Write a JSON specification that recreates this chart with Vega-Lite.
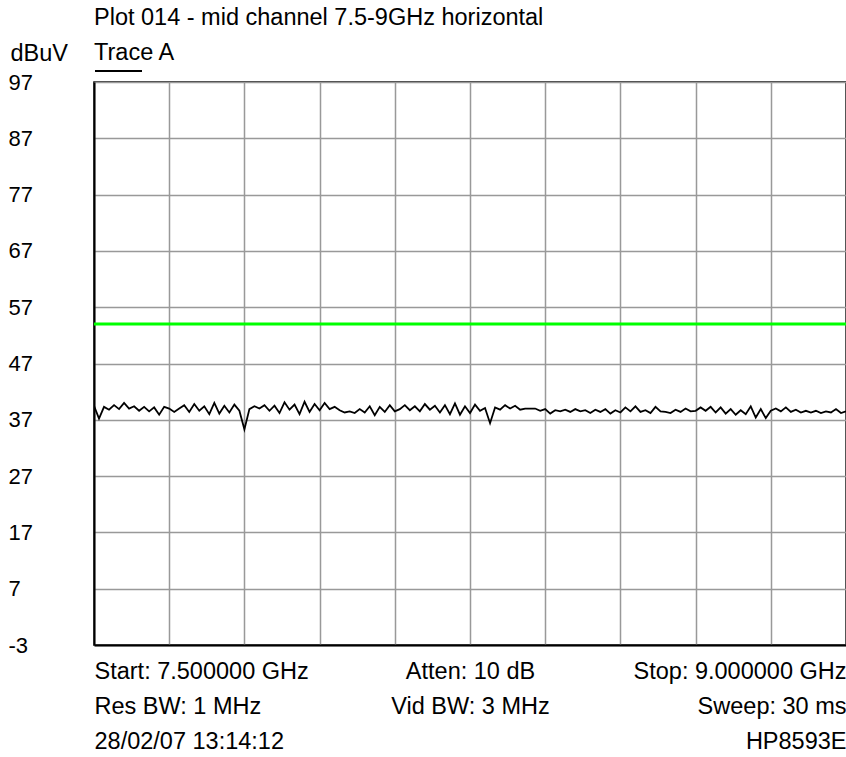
{
  "$schema": "https://vega.github.io/schema/vega-lite/v6.json",
  "width": 752,
  "height": 563,
  "autosize": {"type": "none"},
  "padding": {"left": 94, "top": 82, "right": 0, "bottom": 112},
  "background": "white",
  "config": {
    "font": "Liberation Sans",
    "view": {"stroke": "black", "strokeWidth": 1.5}
  },
  "title": {
    "text": "Plot 014 - mid channel 7.5-9GHz horizontal",
    "anchor": "start",
    "frame": "group",
    "fontSize": 23.5,
    "fontWeight": "normal",
    "color": "black",
    "offset": 12,
    "limit": 0
  },
  "layer": [
    {
      "data": {
        "values": [
          {"freq": 7.50, "level": 39.5, "trace": "Trace A"},
          {"freq": 7.51, "level": 37.2, "trace": "Trace A"},
          {"freq": 7.52, "level": 39.3, "trace": "Trace A"},
          {"freq": 7.53, "level": 38.8, "trace": "Trace A"},
          {"freq": 7.54, "level": 39.6, "trace": "Trace A"},
          {"freq": 7.55, "level": 38.9, "trace": "Trace A"},
          {"freq": 7.56, "level": 40.0, "trace": "Trace A"},
          {"freq": 7.57, "level": 39.0, "trace": "Trace A"},
          {"freq": 7.58, "level": 39.4, "trace": "Trace A"},
          {"freq": 7.59, "level": 38.6, "trace": "Trace A"},
          {"freq": 7.60, "level": 39.3, "trace": "Trace A"},
          {"freq": 7.61, "level": 38.5, "trace": "Trace A"},
          {"freq": 7.62, "level": 39.2, "trace": "Trace A"},
          {"freq": 7.63, "level": 37.9, "trace": "Trace A"},
          {"freq": 7.64, "level": 39.3, "trace": "Trace A"},
          {"freq": 7.65, "level": 39.0, "trace": "Trace A"},
          {"freq": 7.66, "level": 38.4, "trace": "Trace A"},
          {"freq": 7.67, "level": 39.0, "trace": "Trace A"},
          {"freq": 7.68, "level": 39.6, "trace": "Trace A"},
          {"freq": 7.69, "level": 38.4, "trace": "Trace A"},
          {"freq": 7.70, "level": 39.8, "trace": "Trace A"},
          {"freq": 7.71, "level": 38.6, "trace": "Trace A"},
          {"freq": 7.72, "level": 39.4, "trace": "Trace A"},
          {"freq": 7.73, "level": 38.0, "trace": "Trace A"},
          {"freq": 7.74, "level": 40.0, "trace": "Trace A"},
          {"freq": 7.75, "level": 38.1, "trace": "Trace A"},
          {"freq": 7.76, "level": 39.5, "trace": "Trace A"},
          {"freq": 7.77, "level": 38.3, "trace": "Trace A"},
          {"freq": 7.78, "level": 39.7, "trace": "Trace A"},
          {"freq": 7.79, "level": 38.6, "trace": "Trace A"},
          {"freq": 7.80, "level": 35.3, "trace": "Trace A"},
          {"freq": 7.81, "level": 38.9, "trace": "Trace A"},
          {"freq": 7.82, "level": 39.4, "trace": "Trace A"},
          {"freq": 7.83, "level": 39.0, "trace": "Trace A"},
          {"freq": 7.84, "level": 39.6, "trace": "Trace A"},
          {"freq": 7.85, "level": 38.6, "trace": "Trace A"},
          {"freq": 7.86, "level": 39.5, "trace": "Trace A"},
          {"freq": 7.87, "level": 38.2, "trace": "Trace A"},
          {"freq": 7.88, "level": 40.1, "trace": "Trace A"},
          {"freq": 7.89, "level": 38.8, "trace": "Trace A"},
          {"freq": 7.90, "level": 39.7, "trace": "Trace A"},
          {"freq": 7.91, "level": 38.0, "trace": "Trace A"},
          {"freq": 7.92, "level": 40.2, "trace": "Trace A"},
          {"freq": 7.93, "level": 38.4, "trace": "Trace A"},
          {"freq": 7.94, "level": 39.8, "trace": "Trace A"},
          {"freq": 7.95, "level": 38.7, "trace": "Trace A"},
          {"freq": 7.96, "level": 40.0, "trace": "Trace A"},
          {"freq": 7.97, "level": 38.9, "trace": "Trace A"},
          {"freq": 7.98, "level": 39.3, "trace": "Trace A"},
          {"freq": 7.99, "level": 38.7, "trace": "Trace A"},
          {"freq": 8.00, "level": 38.3, "trace": "Trace A"},
          {"freq": 8.01, "level": 38.5, "trace": "Trace A"},
          {"freq": 8.02, "level": 38.2, "trace": "Trace A"},
          {"freq": 8.03, "level": 38.9, "trace": "Trace A"},
          {"freq": 8.04, "level": 38.3, "trace": "Trace A"},
          {"freq": 8.05, "level": 39.4, "trace": "Trace A"},
          {"freq": 8.06, "level": 37.8, "trace": "Trace A"},
          {"freq": 8.07, "level": 39.3, "trace": "Trace A"},
          {"freq": 8.08, "level": 38.4, "trace": "Trace A"},
          {"freq": 8.09, "level": 39.6, "trace": "Trace A"},
          {"freq": 8.10, "level": 38.5, "trace": "Trace A"},
          {"freq": 8.11, "level": 38.9, "trace": "Trace A"},
          {"freq": 8.12, "level": 39.6, "trace": "Trace A"},
          {"freq": 8.13, "level": 38.7, "trace": "Trace A"},
          {"freq": 8.14, "level": 39.4, "trace": "Trace A"},
          {"freq": 8.15, "level": 38.5, "trace": "Trace A"},
          {"freq": 8.16, "level": 39.8, "trace": "Trace A"},
          {"freq": 8.17, "level": 38.8, "trace": "Trace A"},
          {"freq": 8.18, "level": 39.5, "trace": "Trace A"},
          {"freq": 8.19, "level": 38.3, "trace": "Trace A"},
          {"freq": 8.20, "level": 39.6, "trace": "Trace A"},
          {"freq": 8.21, "level": 38.0, "trace": "Trace A"},
          {"freq": 8.22, "level": 39.9, "trace": "Trace A"},
          {"freq": 8.23, "level": 37.9, "trace": "Trace A"},
          {"freq": 8.24, "level": 39.4, "trace": "Trace A"},
          {"freq": 8.25, "level": 38.2, "trace": "Trace A"},
          {"freq": 8.26, "level": 39.7, "trace": "Trace A"},
          {"freq": 8.27, "level": 38.6, "trace": "Trace A"},
          {"freq": 8.28, "level": 39.1, "trace": "Trace A"},
          {"freq": 8.29, "level": 36.4, "trace": "Trace A"},
          {"freq": 8.30, "level": 39.2, "trace": "Trace A"},
          {"freq": 8.31, "level": 38.8, "trace": "Trace A"},
          {"freq": 8.32, "level": 39.6, "trace": "Trace A"},
          {"freq": 8.33, "level": 39.0, "trace": "Trace A"},
          {"freq": 8.34, "level": 39.5, "trace": "Trace A"},
          {"freq": 8.35, "level": 38.8, "trace": "Trace A"},
          {"freq": 8.36, "level": 39.0, "trace": "Trace A"},
          {"freq": 8.37, "level": 39.0, "trace": "Trace A"},
          {"freq": 8.38, "level": 39.0, "trace": "Trace A"},
          {"freq": 8.39, "level": 38.6, "trace": "Trace A"},
          {"freq": 8.40, "level": 38.9, "trace": "Trace A"},
          {"freq": 8.41, "level": 38.1, "trace": "Trace A"},
          {"freq": 8.42, "level": 38.7, "trace": "Trace A"},
          {"freq": 8.43, "level": 38.5, "trace": "Trace A"},
          {"freq": 8.44, "level": 38.8, "trace": "Trace A"},
          {"freq": 8.45, "level": 38.4, "trace": "Trace A"},
          {"freq": 8.46, "level": 38.9, "trace": "Trace A"},
          {"freq": 8.47, "level": 38.5, "trace": "Trace A"},
          {"freq": 8.48, "level": 38.7, "trace": "Trace A"},
          {"freq": 8.49, "level": 38.2, "trace": "Trace A"},
          {"freq": 8.50, "level": 38.8, "trace": "Trace A"},
          {"freq": 8.51, "level": 38.4, "trace": "Trace A"},
          {"freq": 8.52, "level": 38.9, "trace": "Trace A"},
          {"freq": 8.53, "level": 38.1, "trace": "Trace A"},
          {"freq": 8.54, "level": 38.7, "trace": "Trace A"},
          {"freq": 8.55, "level": 38.3, "trace": "Trace A"},
          {"freq": 8.56, "level": 39.2, "trace": "Trace A"},
          {"freq": 8.57, "level": 38.5, "trace": "Trace A"},
          {"freq": 8.58, "level": 39.4, "trace": "Trace A"},
          {"freq": 8.59, "level": 38.4, "trace": "Trace A"},
          {"freq": 8.60, "level": 38.7, "trace": "Trace A"},
          {"freq": 8.61, "level": 38.2, "trace": "Trace A"},
          {"freq": 8.62, "level": 39.3, "trace": "Trace A"},
          {"freq": 8.63, "level": 38.5, "trace": "Trace A"},
          {"freq": 8.64, "level": 38.4, "trace": "Trace A"},
          {"freq": 8.65, "level": 38.2, "trace": "Trace A"},
          {"freq": 8.66, "level": 38.8, "trace": "Trace A"},
          {"freq": 8.67, "level": 38.4, "trace": "Trace A"},
          {"freq": 8.68, "level": 39.0, "trace": "Trace A"},
          {"freq": 8.69, "level": 38.5, "trace": "Trace A"},
          {"freq": 8.70, "level": 38.6, "trace": "Trace A"},
          {"freq": 8.71, "level": 39.2, "trace": "Trace A"},
          {"freq": 8.72, "level": 38.6, "trace": "Trace A"},
          {"freq": 8.73, "level": 39.3, "trace": "Trace A"},
          {"freq": 8.74, "level": 38.3, "trace": "Trace A"},
          {"freq": 8.75, "level": 39.2, "trace": "Trace A"},
          {"freq": 8.76, "level": 38.1, "trace": "Trace A"},
          {"freq": 8.77, "level": 38.9, "trace": "Trace A"},
          {"freq": 8.78, "level": 37.9, "trace": "Trace A"},
          {"freq": 8.79, "level": 38.7, "trace": "Trace A"},
          {"freq": 8.80, "level": 38.0, "trace": "Trace A"},
          {"freq": 8.81, "level": 39.4, "trace": "Trace A"},
          {"freq": 8.82, "level": 37.4, "trace": "Trace A"},
          {"freq": 8.83, "level": 38.9, "trace": "Trace A"},
          {"freq": 8.84, "level": 37.3, "trace": "Trace A"},
          {"freq": 8.85, "level": 38.6, "trace": "Trace A"},
          {"freq": 8.86, "level": 39.0, "trace": "Trace A"},
          {"freq": 8.87, "level": 38.5, "trace": "Trace A"},
          {"freq": 8.88, "level": 39.2, "trace": "Trace A"},
          {"freq": 8.89, "level": 38.4, "trace": "Trace A"},
          {"freq": 8.90, "level": 38.8, "trace": "Trace A"},
          {"freq": 8.91, "level": 38.3, "trace": "Trace A"},
          {"freq": 8.92, "level": 38.6, "trace": "Trace A"},
          {"freq": 8.93, "level": 38.3, "trace": "Trace A"},
          {"freq": 8.94, "level": 38.6, "trace": "Trace A"},
          {"freq": 8.95, "level": 38.2, "trace": "Trace A"},
          {"freq": 8.96, "level": 38.5, "trace": "Trace A"},
          {"freq": 8.97, "level": 38.3, "trace": "Trace A"},
          {"freq": 8.98, "level": 38.9, "trace": "Trace A"},
          {"freq": 8.99, "level": 38.2, "trace": "Trace A"},
          {"freq": 9.00, "level": 38.5, "trace": "Trace A"}
        ]
      },
      "mark": {"type": "line", "strokeWidth": 1.8, "clip": true},
      "encoding": {
        "x": {
          "field": "freq",
          "type": "quantitative",
          "scale": {"domain": [7.5, 9], "nice": false, "zero": false},
          "axis": {
            "values": [7.5, 7.65, 7.8, 7.95, 8.1, 8.25, 8.4, 8.55, 8.7, 8.85, 9],
            "title": null,
            "ticks": false,
            "labelExpr": "datum.value == 7.5 ? ['Start: 7.500000 GHz', 'Res BW: 1 MHz', '28/02/07 13:14:12'] : datum.value == 8.25 ? ['Atten: 10 dB', 'Vid BW: 3 MHz', ''] : datum.value == 9 ? ['Stop: 9.000000 GHz', 'Sweep: 30 ms', 'HP8593E'] : ''",
            "labelFlush": true,
            "labelOverlap": false,
            "labelLimit": 0,
            "labelBaseline": "top",
            "labelPadding": 14,
            "labelLineHeight": 35,
            "labelFontSize": 23.5,
            "labelColor": "black",
            "domainColor": "black",
            "domainWidth": 2,
            "gridColor": "#999999",
            "gridWidth": 1.5,
            "gridOpacity": 1
          }
        },
        "y": {
          "field": "level",
          "type": "quantitative",
          "scale": {"domain": [-3, 97], "nice": false, "zero": false},
          "axis": {
            "values": [-3, 7, 17, 27, 37, 47, 57, 67, 77, 87, 97],
            "labelExpr": "datum.value < 0 ? '-' + abs(datum.value) : '' + datum.value",
            "title": "dBuV",
            "titleAngle": 0,
            "titleAlign": "left",
            "titleBaseline": "alphabetic",
            "titleX": -84,
            "titleY": -22,
            "titleFontSize": 23.5,
            "titleFontWeight": "normal",
            "titleColor": "black",
            "ticks": false,
            "labelAlign": "left",
            "labelBaseline": "middle",
            "labelPadding": 86,
            "labelFontSize": 22,
            "labelColor": "black",
            "domainColor": "black",
            "domainWidth": 2,
            "gridColor": "#999999",
            "gridWidth": 1.5,
            "gridOpacity": 1
          }
        },
        "color": {
          "field": "trace",
          "type": "nominal",
          "scale": {"range": ["black"]},
          "legend": {
            "orient": "none",
            "legendX": 0,
            "legendY": -41,
            "title": "Trace A",
            "titleFontSize": 23.5,
            "titleFontWeight": "normal",
            "titleColor": "black",
            "titlePadding": -18,
            "padding": 0,
            "symbolType": "stroke",
            "symbolSize": 2209,
            "symbolStrokeWidth": 2,
            "symbolOffset": 0,
            "labelExpr": "''"
          }
        }
      }
    },
    {
      "data": {"values": [{"limit": 54}]},
      "mark": {"type": "rule", "color": "#00ff00", "strokeWidth": 3},
      "encoding": {
        "y": {"field": "limit", "type": "quantitative"}
      }
    }
  ]
}
